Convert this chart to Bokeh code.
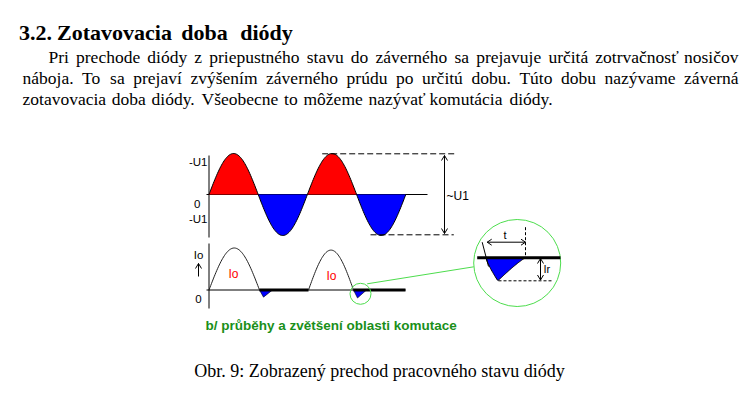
import numpy as np
from bokeh.plotting import figure
from bokeh.models import Range1d
from bokeh.embed import file_html
from bokeh.resources import INLINE
from bokeh.core.properties import value

# ---------------- texts ----------------
heading_words = ["3.2.", "Zotavovacia", "doba", "diódy"]
paragraph_lines = [
    "Pri prechode diódy z priepustného stavu do záverného sa prejavuje určitá zotrvačnosť nosičov",
    "náboja. To sa prejaví zvýšením záverného prúdu po určitú dobu. Túto dobu nazývame záverná",
    "zotavovacia doba diódy. Všeobecne to môžeme nazývať komutácia diódy.",
]
figure_caption = "Obr. 9: Zobrazený prechod pracovného stavu diódy"
diagram_caption = "b/ průběhy a zvětšení oblasti komutace"
voltage_axis_labels = ["-U1", "0", "-U1"]
current_axis_labels = ["Io", "0"]
pulse_labels = ["Io", "Io"]
amplitude_label = "~U1"
detail_labels = ["t", "Ir"]

# ---------------- waveform values ----------------
voltage_halfwaves = [1.0, -1.0, 1.0, -1.0]   # U1 units, one per half period
current_pulses = [1.0, 0.95]                 # forward current peaks, Io units
reverse_peaks = [0.17, 0.19]                 # reverse recovery peaks, Io units
detail_reverse_peak = 1.0                    # magnified reverse current (Ir units)

# ---------------- layout (pixel space of the page) ----------------
W, H = 751, 398
p = figure(width=W, height=H, x_range=Range1d(0, W), y_range=Range1d(H, 0),
           output_backend="svg", toolbar_location=None,
           x_axis_location=None, y_axis_location=None, min_border=0)
p.xgrid.grid_line_color = None
p.ygrid.grid_line_color = None
p.outline_line_color = None
p.background_fill_color = "white"
p.border_fill_color = "white"

SERIF = value("Liberation Serif")
SANS = value("Liberation Sans")

# Times metrics (1/1000 em) for justification
TW = {' ': 250, '.': 250, ',': 250, ':': 278, '2': 500, '3': 500, '9': 500,
      'a': 444, 'b': 500, 'c': 444, 'd': 500, 'e': 444, 'f': 333, 'g': 500, 'h': 500,
      'i': 278, 'j': 278, 'k': 500, 'l': 278, 'm': 778, 'n': 500, 'o': 500, 'p': 500,
      'q': 500, 'r': 333, 's': 389, 't': 278, 'u': 500, 'v': 500, 'w': 722, 'x': 500,
      'y': 500, 'z': 444, 'P': 556, 'T': 611, 'V': 722, 'O': 722, 'Z': 611, 'ť': 330}
BASE = {'á': 'a', 'é': 'e', 'í': 'i', 'ó': 'o', 'ú': 'u', 'ý': 'y', 'č': 'c',
        'ž': 'z', 'š': 's', 'ô': 'o', 'ň': 'n'}


def word_width(word, size):
    return sum(TW.get(BASE.get(ch, ch), 500) for ch in word) / 1000.0 * size


def justified_words(text, x0, x1, size):
    words = text.split(" ")
    ws = [word_width(w, size) for w in words]
    gap = (x1 - x0 - sum(ws)) / (len(words) - 1)
    xs, x = [], x0
    for w in ws:
        xs.append(x)
        x += w + gap
    return words, xs


def draw_justified(text, x0, x1, yb, size):
    words, xs = justified_words(text, x0, x1, size)
    p.text(x=xs[:-1], y=[yb] * (len(xs) - 1), text=words[:-1], text_font=SERIF,
           text_font_size=f"{size}px", text_align="left", text_baseline="alphabetic",
           text_color="black")
    p.text(x=[x1], y=[yb], text=[words[-1]], text_font=SERIF,
           text_font_size=f"{size}px", text_align="right", text_baseline="alphabetic",
           text_color="black")


BODY = 17.5
# heading
p.text(x=[35, 114, 204, 266], y=[32] * 4, text=heading_words, text_font=SERIF,
       text_font_style="bold", text_font_size="22px", text_align="center",
       text_baseline="alphabetic", text_color="black")

# paragraph
line_extents = [(48, 738), (22, 738), (22, 552)]
baselines = [56, 77, 98]
for line, (x0, x1), yb in zip(paragraph_lines, line_extents, baselines):
    draw_justified(line, x0, x1, yb, BODY)

# figure caption
p.text(x=[379], y=[370], text=[figure_caption], text_font=SERIF,
       text_font_size="18px", text_align="center", text_baseline="alphabetic",
       text_color="black")

# ---------------- upper diagram: voltage ----------------
ux0, uy0, uhalf, uamp = 208.5, 194.0, 49.2, 41.0
p.line([206, 427], [uy0, uy0], line_color="black", line_width=1)
p.line([ux0, ux0], [155, 237], line_color="black", line_width=1)
for k, v in enumerate(voltage_halfwaves):
    xs = np.linspace(ux0 + k * uhalf, ux0 + (k + 1) * uhalf, 60)
    ys = uy0 - v * uamp * np.sin(np.pi * (xs - xs[0]) / uhalf)
    p.patch(list(xs) + [xs[-1], xs[0]], list(ys) + [uy0, uy0],
            fill_color="#ff0000" if v > 0 else "#0000ff", line_color=None)
    p.line(xs, ys, line_color="black", line_width=1)

p.text(x=[207, 200, 207], y=[161.5, 203, 218.5], text=voltage_axis_labels,
       text_font=SANS, text_font_size="11.5px", text_align="right",
       text_baseline="middle", text_color="black")

# dashed extents and double arrow
p.line([321.7, 455], [153.3, 153.3], line_color="black", line_dash="6 3", line_width=1)
p.line([370, 453.3], [234.3, 234.3], line_color="black", line_dash="6 3", line_width=1)
p.line([444, 444], [155, 233], line_color="black", line_width=1)


def head(tx, ty, ux, uy, L=5.0, w=3.0):
    n = np.hypot(ux, uy)
    ux, uy = ux / n, uy / n
    bx, by = tx - L * ux, ty - L * uy
    nx, ny = -uy, ux
    return [[bx + w * nx, tx, bx - w * nx]], [[by + w * ny, ty, by - w * ny]]


heads_x, heads_y = [], []
for (tx, ty, dx, dy) in [(444, 155, 0, -1), (444, 233, 0, 1),
                         (198, 263, 0, -1),
                         (486.7, 241.7, -1, 0), (525, 241.7, 1, 0),
                         (540, 258, 0, -1), (540, 279.5, 0, 1)]:
    hx, hy = head(tx, ty, dx, dy, L=5 if dx == 0 else 4.5, w=3)
    heads_x += hx
    heads_y += hy
p.multi_line(heads_x, heads_y, line_color="black", line_width=1)

p.text(x=[446], y=[195.5], text=[amplitude_label], text_font=SANS, text_font_size="12px",
       text_align="left", text_baseline="middle", text_color="black")

# ---------------- lower diagram: current ----------------
ly0, lamp = 289.5, 42.0
pulse_spans = [(208.5, 259.0), (308.0, 353.0)]
tail_ends = [308.0, 405.0]
p.line([206, 405], [ly0, ly0], line_color="black", line_width=1)
p.line([208.5, 208.5], [243, 308], line_color="black", line_width=1)
for (a, b), peak, rpk, tend in zip(pulse_spans, current_pulses, reverse_peaks, tail_ends):
    xs = np.linspace(a, b, 60)
    ys = ly0 - peak * lamp * np.sin(np.pi * (xs - a) / (b - a))
    p.line(xs, ys, line_color="#222222", line_width=1)
    depth = rpk * lamp
    p.patch([b, b + 4, b + 13], [ly0, ly0 + depth, ly0], fill_color="#0000ff",
            line_color="#000000", line_width=0.6)
    p.line([b, tend], [ly0, ly0], line_color="black", line_width=3)

p.text(x=[198, 198], y=[254, 298], text=current_axis_labels, text_font=SANS,
       text_font_size="11.5px", text_align="center", text_baseline="middle",
       text_color="black")
p.line([198, 198], [263, 276], line_color="black", line_width=1)
p.text(x=[233, 331], y=[273.5, 275], text=pulse_labels, text_font=SANS,
       text_font_size="12px", text_align="center", text_baseline="middle",
       text_color="#ff0000")

# ---------------- magnified commutation detail ----------------
GREEN = "#4ddd4d"
p.circle(x=[360], y=[293.3], radius=10.5, fill_color=None, line_color=GREEN, line_width=1)
p.line([366.7, 473.3], [283.3, 266.3], line_color=GREEN, line_width=1)
p.circle(x=[516.7], y=[262.5], radius=43.5, fill_color=None, line_color=GREEN, line_width=1)

dy0, dxa, dxb, ddepth = 257.3, 485.5, 525.0, 23.0
u = np.linspace(0, 1, 60)
ub = 0.3
shape = np.where(u < ub, (u / ub) ** 0.8, ((1 - u) / (1 - ub)) ** 1.15)
bx = dxa + u * (dxb - dxa)
by = dy0 + detail_reverse_peak * ddepth * shape
p.patch(list(bx), list(by), fill_color="#0000ff", line_color="black", line_width=1)
p.line([481.7, 488], [241.7, 266], line_color="black", line_width=1)
p.line([476.7, 560], [dy0, dy0], line_color="black", line_width=3)
p.line([498, 553], [280.3, 280.3], line_color="black", line_dash="3 2", line_width=1)
p.line([525, 525], [226.7, 257], line_color="black", line_dash="3 2", line_width=1)
p.line([486.7, 525], [241.7, 241.7], line_color="black", line_width=1)
p.line([540, 540], [258, 279.5], line_color="black", line_width=1)
p.text(x=[503, 543], y=[234.5, 268], text=detail_labels, text_font=SANS,
       text_font_size="11px", text_align="left", text_baseline="middle",
       text_color="black")

# green diagram caption
p.text(x=[205], y=[325], text=[diagram_caption], text_font=SANS, text_font_style="bold",
       text_font_size="13.5px", text_align="left", text_baseline="alphabetic",
       text_color="#1a8f1a")

open("out.html", "w").write(file_html(p, INLINE))
